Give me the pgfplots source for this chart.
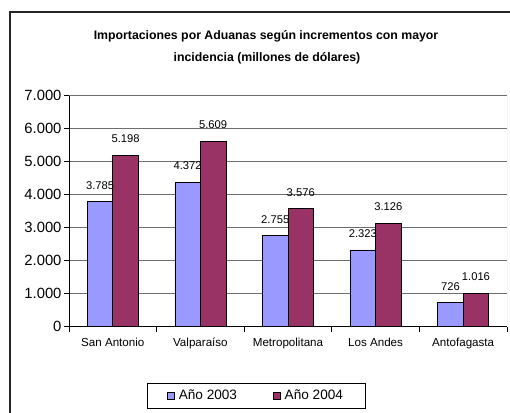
\documentclass[border=0pt]{standalone}
\usepackage{pgfplots}
\pgfplotsset{compat=1.18}
\usepackage{fontspec}
\setmainfont{Liberation Sans}
\definecolor{c2003}{HTML}{9999FF}
\definecolor{c2004}{HTML}{993366}
\definecolor{gridc}{HTML}{6E6E6E}
\pgfplotsset{
  mybar/.style={draw=black, line width=0.8pt,
    legend image code/.code={\draw[##1, line width=0.7pt] (0pt,-3.5pt) rectangle (7pt,3.5pt);}},
}
\begin{document}
\begin{tikzpicture}[x=1pt,y=1pt]
\useasboundingbox (0,0) rectangle (510,412);
\draw[line width=1.5pt, color=black!85] (10,-10) -- (10,400) -- (520,400);
\node[font=\fontsize{12.3}{14}\selectfont\bfseries, anchor=base] at (266,372)
  {Importaciones por Aduanas según incrementos con mayor};
\node[font=\fontsize{12.3}{14}\selectfont\bfseries, anchor=base] at (267,350)
  {incidencia (millones de dólares)};
\begin{axis}[
  at={(69pt,85.3pt)}, anchor=south west,
  scale only axis, width=438pt, height=231.2pt,
  ybar=0pt, bar width=25.5pt,
  xmin=-0.5, xmax=4.5, ymin=0, ymax=7000,
  xtick={-0.5,0.5,...,4.5}, xticklabels={},
  extra x ticks={0,1,2,3,4},
  extra x tick labels={San Antonio,Valparaíso,Metropolitana,Los Andes,Antofagasta},
  extra x tick style={major tick length=0pt,
    tick label style={font=\fontsize{11.6}{13}\selectfont, yshift=-8pt}},
  ytick={0,1000,...,7000},
  tick align=outside, major tick length=5pt,
  xtick pos=left, ytick pos=left,
  tick style={black, line width=0.8pt},
  ymajorgrids, major grid style={gridc, line width=0.9pt},
  axis x line*=bottom, axis y line*=left,
  axis line style={black, line width=0.9pt, -},
  y tick label style={font=\fontsize{14.8}{16}\selectfont, xshift=1pt},
  /pgf/number format/fixed,
  /pgf/number format/1000 sep={.},
  /pgf/number format/assume math mode=true,
  nodes near coords,
  nodes near coords style={font=\fontsize{11.2}{12}\selectfont, anchor=south,
    inner sep=0pt, yshift=12pt},
  legend columns=2,
  legend style={at={(0.427,-0.298)}, anchor=center, draw=black, line width=0.8pt,
    font=\fontsize{13.6}{15}\selectfont, inner xsep=20pt, inner ysep=5pt,
    /tikz/every odd column/.append style={column sep=2pt},
    /tikz/every even column/.append style={column sep=34pt}},
]
\addplot[mybar, fill=c2003] coordinates {(0,3785) (1,4372) (2,2755) (3,2323) (4,726)};
\addplot[mybar, fill=c2004] coordinates {(0,5198) (1,5609) (2,3576) (3,3126) (4,1016)};
\legend{Año 2003, Año 2004}
\draw[color=black!35, line width=1pt] (rel axis cs:1,0) -- (rel axis cs:1,1);
\end{axis}
\end{tikzpicture}
\end{document}
